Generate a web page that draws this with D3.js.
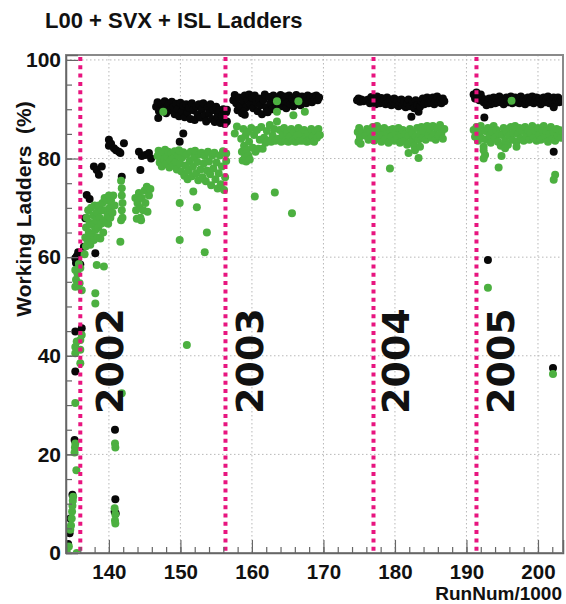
<!DOCTYPE html>
<html><head><meta charset="utf-8">
<script src="https://cdn.jsdelivr.net/npm/d3@7"></script>
<style>body{margin:0;background:#fff;} svg{display:block;}</style>
</head><body>
<svg id="c" width="566" height="604"></svg>
<script>
// ---------------- DATA ----------------
const titleText = "L00 + SVX + ISL Ladders";
const yTitle = "Working Ladders  (%)";
const xTitle = "RunNum/1000";
const xTicksMajor = [140,150,160,170,180,190,200];
const yTicksMajor = [0,20,40,60,80,100];
const yearBoundaries = [136.0, 156.3, 177.0, 191.4];
const yearLabels = ["2002","2003","2004","2005"];
const yearLabelRuns = [142.0, 161.5, 182.0, 196.6];

// black series (all ladders) [run/1000, %]
const black2002 = [[134.3,1.8],[134.5,4.0],[134.6,7.0],[134.9,11.8],[135.2,22.9],[135.3,36.8],[135.3,44.9],[136.2,45.6],
 [135.4,58.8],[135.5,60.2],[135.6,59.3],[135.3,59.8],[135.7,61.0],[136.0,58.5],[136.5,62.1],[136.7,67.9],[136.9,72.6],[137.3,71.8],
 [137.9,78.4],[138.3,77.7],[138.6,76.7],[139.0,78.4],[138.1,60.8],[140.0,83.8],[140.0,82.6],[140.3,83.0],[140.7,82.1],[141.0,81.7],[141.4,81.4],
 [141.6,81.1],[142.1,83.1],[141.8,76.3],[144.2,81.4],[144.6,80.5],[145.1,80.7],[145.6,81.1],[144.4,77.7],[145.9,80.0],
 [140.85,25.0],[140.9,10.9],[140.8,8.4],[140.95,8.0]];
const black2002b = [[146.6,90.5],[146.8,91.4],[147.0,89.6],[146.9,88.2],[147.4,91.0],[147.6,90.0],[147.8,91.6],[148.0,89.2],[148.2,90.6],[148.4,91.2],
 [148.6,89.8],[148.8,91.5],[149.0,90.4],[149.2,89.0],[149.4,91.1],[149.6,90.0],[149.8,88.6],[150.0,91.3],[150.2,89.6],[150.4,90.7],
 [150.6,88.4],[150.8,91.0],[151.0,89.4],[151.2,90.3],[151.4,88.0],[151.6,91.2],[151.8,89.8],[152.0,87.8],[152.2,90.6],[152.4,89.0],
 [152.6,91.0],[152.8,88.3],[153.0,90.0],[153.2,91.2],[153.4,88.8],[153.6,87.5],[153.8,90.4],[154.0,89.2],[154.2,91.0],[154.4,88.0],
 [154.6,89.8],[154.8,87.4],[155.0,90.5],[155.2,88.6],[155.4,89.8],[155.6,87.2],[155.8,88.5],[156.0,90.0],[156.2,87.0],[156.4,89.4],
 [150.4,85.1],[149.9,83.4],[156.5,89.9],[156.5,87.5]];
const black2003 = [[157.4,91.8],[157.6,92.9],[157.8,91.2],[158.0,89.8],[158.2,92.4],[158.4,90.6],[158.6,89.2],[158.8,91.6],[159.0,92.8],[159.2,90.4],
 [159.4,91.9],[159.6,93.0],[159.8,91.0],[160.0,92.4],[160.2,90.2],[160.4,92.8],[160.6,91.4],[160.8,89.6],[161.0,92.2],[161.2,90.8],
 [161.4,89.0],[161.6,91.8],[161.8,93.0],[162.0,90.4],[162.2,89.4],[162.4,92.5],[162.6,91.2],[162.8,90.0],[163.0,92.8],[163.2,91.6],
 [163.4,90.4],[163.6,92.2],[163.8,91.0],[164.0,92.9],[164.2,90.6],[164.4,91.8],[164.6,92.6],[164.8,90.2],[165.0,91.4],[165.2,92.8],
 [165.4,91.0],[165.6,92.2],[165.8,90.6],[166.0,91.6],[166.2,92.9],[166.4,91.2],[166.6,92.2],[166.8,90.8],[167.0,92.6],[167.2,91.6],
 [167.4,92.4],[167.6,91.2],[167.8,92.8],[168.0,91.8],[168.2,92.4],[168.4,91.4],[168.6,92.6],[168.8,92.0],[169.0,92.8],[169.2,91.8],
 [169.4,92.4],[158.8,89.5],[159.0,88.9],[162.1,89.5]];
const black2004 = [[174.7,91.8],[174.9,92.2],[175.1,91.5],[175.3,92.0],[175.6,91.6],[176.0,91.8],
 [176.3,92.0],[176.5,91.2],[176.7,92.5],[176.9,91.6],[177.1,92.2],[177.3,91.0],[177.5,92.6],[177.7,91.8],[177.9,91.2],[178.1,92.3],
 [178.3,91.6],[178.5,92.0],[178.7,91.0],[178.9,92.4],[179.1,91.4],[179.3,92.0],[179.5,90.8],[179.7,91.6],[179.9,92.2],[180.1,91.0],
 [180.3,91.8],[180.5,90.6],[180.7,91.4],[180.9,92.0],[181.1,90.8],[181.3,91.6],[181.5,90.4],[181.7,91.2],[181.9,92.0],[182.1,90.6],
 [182.3,88.5],[182.5,91.4],[182.7,90.2],[182.9,91.8],[183.1,90.8],[183.3,89.5],[183.5,90.5],[183.7,91.6],[183.9,92.2],[184.1,91.0],
 [184.3,91.8],[184.5,92.4],[184.7,91.2],[184.9,92.0],[185.1,91.4],[185.3,92.4],[185.5,91.0],[185.7,91.8],[185.9,92.6],[186.1,91.4],
 [186.3,92.0],[186.5,91.2],[186.7,92.2],[186.9,91.6]];
const black2005 = [[191.0,93.0],[191.2,92.2],[191.4,93.4],[191.6,92.6],[191.8,91.8],[192.0,93.0],[192.2,92.2],[192.4,91.4],[192.6,92.0],[192.8,90.8],
 [193.0,91.6],[193.2,92.2],[193.4,91.0],[193.6,91.8],[193.8,92.4],[194.0,91.2],[194.2,92.0],[194.4,91.4],[194.6,92.6],[194.8,91.6],
 [195.0,92.2],[195.2,91.0],[195.4,91.8],[195.6,92.4],[195.8,91.4],[196.0,92.0],[196.2,92.6],[196.4,91.2],[196.6,91.8],[196.8,92.4],
 [197.0,91.4],[197.2,92.0],[197.4,91.2],[197.6,92.6],[197.8,91.6],[198.0,92.2],[198.2,91.0],[198.4,91.8],[198.6,92.4],[198.8,91.4],
 [199.0,92.0],[199.2,92.6],[199.4,91.2],[199.6,91.8],[199.8,92.4],[200.0,91.6],[200.2,92.2],[200.4,91.0],[200.6,91.8],[200.8,92.4],
 [201.0,91.4],[201.2,92.0],[201.4,92.6],[201.6,91.2],[201.8,92.0],[202.0,91.6],[202.2,92.4],[202.4,91.2],[202.6,91.8],[202.8,92.4],
 [203.0,91.4],[203.2,92.0],[203.4,91.6],
 [192.5,88.3],[202.2,90.4],[202.2,81.4],[193.0,59.4],[202.1,37.5]];

// green series [run/1000, %]
const green2002 = [[134.1,0.3],[134.4,1.3],[134.6,4.7],[134.7,5.6],[134.8,7.0],[134.85,8.4],[134.9,9.6],[134.95,10.6],[135.0,11.4],[135.5,0.0],
 [135.45,16.8],[135.2,20.4],[135.25,21.4],[135.3,22.2],[135.3,30.4],[136.0,38.5],[135.3,40.5],[135.3,41.8],[135.5,42.9],[136.0,43.2],
 [136.0,41.2],[136.2,44.2],
 [135.3,57.4],[135.6,56.7],[135.4,55.4],[135.9,54.7],[135.3,54.0],[136.2,53.3],[136.0,57.8],[135.8,58.6],[136.6,60.6],[136.8,62.2],
 [136.7,64.0],[136.8,66.0],[136.9,68.0],[137.0,63.5],[137.1,69.5],[137.2,65.0],[137.3,67.0],[137.4,62.5],[137.5,70.0],[137.6,64.5],
 [137.7,66.5],[137.8,68.5],[137.9,63.5],[138.0,70.5],[138.1,65.5],[138.2,67.5],[138.3,69.0],[138.4,64.0],[138.5,66.0],[138.6,70.5],
 [138.7,68.0],[138.8,63.8],[138.9,66.8],[139.0,69.5],[139.1,71.0],[139.2,65.0],[139.3,67.5],[139.4,72.0],[139.5,69.5],[139.6,67.0],
 [139.7,71.5],[139.8,68.5],[139.9,66.8],[140.0,72.5],[140.1,70.0],[140.2,68.0],[140.3,71.5],[140.5,69.0],[140.6,72.5],[140.8,70.5],
 [141.7,75.5],[141.8,74.0],[141.8,72.5],[141.9,71.0],[141.8,69.5],[141.9,68.0],[141.7,67.5],[141.6,63.1],
 [143.7,72.0],[143.8,69.5],[143.9,67.8],[144.0,71.0],[144.2,73.0],[144.3,70.0],[144.4,68.0],[144.6,72.0],[144.8,69.5],[145.0,73.5],
 [145.1,71.0],[145.3,74.3],[145.4,69.2],[145.6,72.5],[145.8,73.8],[144.5,67.5],
 [138.1,52.7],[138.1,50.6],[138.3,58.4],[139.3,58.1],[140.85,22.2],[140.9,21.4],[140.8,9.1],[140.9,7.8],[140.85,6.6],[140.9,6.0],[141.8,32.4]];
const green2002b = [[146.8,80.5],[146.95,81.6],[147.1,79.2],[147.25,80.6],[147.4,78.4],[147.55,81.3],[147.7,79.8],[147.85,81.8],[148.0,78.9],[148.15,80.4],
 [148.3,81.4],[148.45,78.2],[148.6,79.6],[148.75,81.0],[148.9,80.0],[149.05,78.6],[149.2,81.5],[149.35,79.3],[149.5,77.8],[149.65,80.6],
 [149.8,81.7],[149.95,79.0],[150.1,77.4],[150.25,80.2],[150.4,81.3],[150.55,76.5],[150.7,78.6],[150.85,80.8],[151.0,75.8],[151.15,77.6],
 [151.3,79.5],[151.45,81.4],[151.6,76.4],[151.75,78.4],[151.9,80.2],[152.05,81.6],[152.2,77.0],[152.35,79.3],[152.5,75.6],[152.65,80.8],
 [152.8,77.8],[152.95,81.2],[153.1,76.2],[153.25,79.0],[153.4,80.5],[153.55,75.4],[153.7,77.6],[153.85,81.4],[154.0,79.4],[154.15,76.8],
 [154.3,74.6],[154.45,80.6],[154.6,78.0],[154.75,81.2],[154.9,75.8],[155.05,79.2],[155.2,73.9],[155.35,77.0],[155.5,80.6],[155.65,74.8],
 [155.8,78.4],[155.95,81.5],[156.1,73.6],[156.25,76.2],[156.4,79.5],[156.4,81.0],
 [147.6,89.5],[149.9,71.0],[152.3,70.1],[151.8,73.3],[153.7,65.0],[149.9,63.5],[153.4,61.0],[150.9,42.2]];
const green2003 = [[157.6,85.1],[157.9,86.5],[158.5,84.0],[158.6,81.4],[158.7,79.6],[158.8,86.0],[158.9,82.6],[159.0,80.2],[159.1,84.6],[159.2,79.4],
 [159.3,81.8],[159.4,85.4],[159.5,80.6],[159.6,83.4],[159.7,79.8],[159.9,86.2],[160.1,82.2],[160.3,84.8],[160.5,81.4],[160.7,85.8],
 [160.9,82.0],[161.1,83.8],[161.3,86.4],[161.5,82.0],[161.7,84.2],[161.9,83.2],[162.1,85.6],[162.3,83.6],[162.5,86.8],[162.7,83.4],
 [162.9,84.6],[163.1,86.0],[163.3,83.6],[163.5,87.5],[163.7,84.0],[163.9,85.8],[164.1,83.4],[164.3,84.8],[164.5,86.2],[164.7,83.6],
 [164.9,85.2],[165.1,83.4],[165.3,84.4],[165.5,86.0],[165.7,83.6],[165.9,85.4],[166.1,83.4],[166.3,84.6],[166.5,86.2],[166.7,83.6],
 [166.9,85.0],[167.1,83.6],[167.3,85.8],[167.5,84.0],[167.7,83.4],[167.9,85.2],[168.1,83.6],[168.3,86.0],[168.5,84.4],[168.7,83.4],
 [168.9,85.6],[169.1,84.2],[169.3,86.0],[169.5,84.8],
 [163.5,91.6],[163.5,89.5],[166.5,91.6],[165.8,88.8],[167.4,89.5],[160.4,72.3],[163.2,73.1],[165.6,68.9]];
const green2004 = [[174.8,85.4],[174.9,83.4],[175.0,86.2],[175.1,84.4],[175.2,83.0],[175.4,85.2],[175.9,84.6],[176.1,86.0],[176.3,83.8],[176.5,85.4],
 [176.7,84.2],[176.9,86.4],[177.1,83.6],[177.3,85.6],[177.5,86.6],[177.7,84.2],[177.9,85.8],[178.1,83.4],[178.3,84.8],[178.5,86.2],
 [178.7,84.0],[178.9,85.4],[179.1,83.2],[179.3,85.8],[179.5,84.4],[179.7,86.0],[179.9,83.6],[180.1,85.2],[180.3,84.0],[180.5,86.2],
 [180.7,83.2],[180.9,84.8],[181.1,85.8],[181.3,83.6],[181.5,85.0],[181.7,82.8],[181.9,84.6],[182.1,86.0],[182.3,83.4],[182.5,85.2],
 [182.7,82.6],[182.9,84.4],[183.1,86.2],[183.3,83.8],[183.5,85.0],[183.7,86.4],[183.9,84.2],[184.1,85.6],[184.3,83.8],[184.5,86.6],
 [184.7,84.8],[184.9,86.0],[185.1,84.2],[185.3,86.6],[185.5,85.0],[185.7,83.8],[185.9,86.2],[186.1,84.6],[186.3,86.8],[186.5,85.2],
 [186.7,84.0],[186.9,86.0],
 [181.9,81.1],[182.8,81.7],[183.3,80.1],[183.5,82.4],[179.3,78.0]];
const green2005 = [[191.0,85.8],[191.2,84.4],[191.4,86.4],[191.6,83.6],[191.8,85.2],[192.0,86.6],[192.2,84.0],[192.4,82.4],[192.6,85.6],[192.8,83.8],
 [193.0,86.2],[193.2,84.6],[193.4,83.2],[193.6,85.4],[193.8,86.6],[194.0,84.2],[194.2,85.8],[194.4,83.4],[194.6,85.0],[194.8,82.6],
 [195.0,84.8],[195.2,86.2],[195.4,83.6],[195.6,85.4],[195.8,82.8],[196.0,84.6],[196.2,86.4],[196.4,83.8],[196.6,85.2],[196.8,86.6],
 [197.0,83.4],[197.2,85.0],[197.4,86.2],[197.6,84.0],[197.8,85.6],[198.0,83.6],[198.2,86.4],[198.4,84.6],[198.6,85.8],[198.8,83.8],
 [199.0,85.2],[199.2,86.6],[199.4,84.2],[199.6,85.6],[199.8,83.6],[200.0,86.2],[200.2,84.8],[200.4,83.8],[200.6,85.8],[200.8,86.6],
 [201.0,84.4],[201.2,85.6],[201.4,83.4],[201.6,85.0],[201.8,86.4],[202.0,84.0],[202.2,85.4],[202.4,83.6],[202.6,86.0],[202.8,84.6],
 [203.0,85.8],[203.2,84.2],[203.4,85.6],
 [196.3,91.7],[192.4,81.7],[192.6,80.7],[192.4,80.0],[194.9,80.5],[195.4,82.1],[194.5,78.2],[197.0,82.4],[202.4,76.7],[202.2,75.7],
 [193.0,53.8],[202.1,36.3]];

// ---------------- CHART ----------------
const blackPts = [].concat(black2002, black2002b, black2003, black2004, black2005);
const greenPts = [].concat(green2002, green2002b, green2003, green2004, green2005);

const L = 66, R = 563, T = 55, B = 553;
const svg = d3.select("#c");
const x = d3.scaleLinear().domain([134, 203.5]).range([L, R]);
const y = d3.scaleLinear().domain([0, 101]).range([B, T]);
const fontMain = "'Liberation Sans', Arial, sans-serif";

svg.append("defs").append("clipPath").attr("id","clip")
  .append("rect").attr("x",L).attr("y",T).attr("width",R-L).attr("height",B-T);

// grid
const grid = svg.append("g").attr("stroke","#b8b8b8").attr("stroke-width",1).attr("stroke-dasharray","1.5,2.5");
grid.selectAll("line.gx").data(xTicksMajor).join("line")
  .attr("x1",d=>x(d)).attr("x2",d=>x(d)).attr("y1",T).attr("y2",B);
grid.selectAll("line.gy").data(yTicksMajor.filter(d=>d>0)).join("line")
  .attr("x1",L).attr("x2",R).attr("y1",d=>y(d)).attr("y2",d=>y(d));

// points
const pts = svg.append("g").attr("clip-path","url(#clip)");
pts.selectAll("circle.b").data(blackPts).join("circle")
  .attr("cx",d=>x(d[0])).attr("cy",d=>y(d[1])).attr("r",4).attr("fill","#080808");
pts.selectAll("circle.g").data(greenPts).join("circle")
  .attr("cx",d=>x(d[0])).attr("cy",d=>y(d[1])).attr("r",4).attr("fill","#4cb040");

// year boundaries
svg.append("g").selectAll("line").data(yearBoundaries).join("line")
  .attr("x1",d=>x(d)).attr("x2",d=>x(d)).attr("y1",T+2).attr("y2",B)
  .attr("stroke","#e8157f").attr("stroke-width",4).attr("stroke-dasharray","4,4.3");

// frame
svg.append("rect").attr("x",L).attr("y",T).attr("width",R-L).attr("height",B-T)
  .attr("fill","none").attr("stroke","#8a8a8a").attr("stroke-width",2);

// axes
const xMinor = d3.range(134, 204, 2);
const gx = svg.append("g").attr("transform",`translate(0,${B})`);
gx.call(d3.axisBottom(x).tickValues(xMinor).tickSize(-6).tickFormat(""));
gx.call(g=>g.select(".domain").remove());
const gx2 = svg.append("g").attr("transform",`translate(0,${B})`);
gx2.call(d3.axisBottom(x).tickValues(xTicksMajor).tickSize(-13).tickPadding(11).tickFormat(d3.format("d")));
gx2.select(".domain").attr("stroke","#666").attr("stroke-width",1.5);
svg.selectAll("g.tick line").attr("stroke","#666").attr("stroke-width",1.2);
gx2.selectAll("text").attr("font-family",fontMain).attr("font-weight","bold").attr("font-size",20.5).attr("fill","#111");

const yMinor = d3.range(0, 101, 5);
const gy = svg.append("g").attr("transform",`translate(${L},0)`);
gy.call(d3.axisLeft(y).tickValues(yMinor).tickSize(-6).tickFormat(""));
gy.call(g=>g.select(".domain").remove());
const gy2 = svg.append("g").attr("transform",`translate(${L},0)`);
gy2.call(d3.axisLeft(y).tickValues(yTicksMajor).tickSize(-12).tickPadding(5).tickFormat(d3.format("d")));
gy2.select(".domain").attr("stroke","#666").attr("stroke-width",1.5);
svg.selectAll("g.tick line").attr("stroke","#666").attr("stroke-width",1.2);
gy2.selectAll("text").attr("font-family",fontMain).attr("font-weight","bold").attr("font-size",21).attr("fill","#111");

// year labels
svg.append("g").selectAll("text").data(yearLabels).join("text")
  .attr("transform",(d,i)=>`translate(${x(yearLabelRuns[i])},414) rotate(-90)`)
  .attr("font-family","'DejaVu Sans', sans-serif").attr("font-weight","bold").attr("font-size",38)
  .attr("fill","#111").text(d=>d);

// titles
svg.append("text").attr("x",45).attr("y",28).attr("font-family",fontMain).attr("font-weight","bold")
  .attr("font-size",22).attr("fill","#111").text(titleText);
svg.append("text").attr("transform","translate(31,209) rotate(-90)").attr("text-anchor","middle")
  .style("white-space","pre")
  .attr("font-family",fontMain).attr("font-weight","bold").attr("font-size",21).attr("fill","#111").text(yTitle);
svg.append("text").attr("x",562).attr("y",600).attr("text-anchor","end")
  .attr("font-family",fontMain).attr("font-weight","bold").attr("font-size",19).attr("fill","#111").text(xTitle);
</script>
</body></html>
